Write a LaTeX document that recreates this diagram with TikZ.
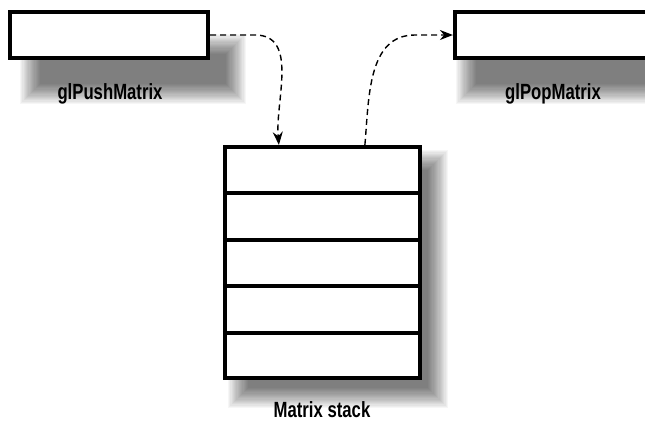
\documentclass[tikz,border=0pt]{standalone}
\usepackage{fontspec}
\newfontfamily\labfont[FakeStretch=0.76]{Liberation Sans Bold}
\usetikzlibrary{arrows.meta,calc}
\newcommand{\softshad}[4]{%
  \foreach \k in {0,...,17}{%
    \fill[black,opacity=0.034] (#1+1.2*\k,#2-1.2*\k) rectangle (#3-1.2*\k,#4+1.2*\k);}}
\begin{document}
\begin{tikzpicture}[x=1pt,y=1pt,
  box/.style={draw=black,line width=4.2pt,fill=white,inner sep=0pt,rectangle},
  lab/.style={font=\labfont\fontsize{22}{24}\selectfont,inner sep=0pt},
  conn/.style={dash pattern=on 6pt off 4pt,line width=1.4pt,-{Stealth[length=13pt,width=10pt]}}]
\useasboundingbox (0,0) rectangle (645,-423);
\fill[white] (0,0) rectangle (645,-423);
\softshad{20}{-34}{246}{-104}
\softshad{456}{-34}{670}{-104}
\softshad{228}{-150}{448}{-408}
\node[box,minimum width=198pt,minimum height=46pt] (push) at (109,-35) {};
\node[box,minimum width=200pt,minimum height=46pt] (pop) at (555,-35) {};
\node[box,minimum width=195pt,minimum height=231pt] (stack) at (322.5,-262.5) {};
\foreach \y [count=\i] in {-193,-240,-286,-333}
  \draw[line width=4.2pt] ($(stack.west)+(0,\y+262.5)$) coordinate (l\i) -- ($(stack.east)+(0,\y+262.5)$) coordinate (r\i);
\node[lab] (pushlab) at (110,-94) {glPushMatrix};
\node[lab] (poplab) at (553,-94) {glPopMatrix};
\node[lab] (stacklab) at (322,-410) {Matrix stack};
\coordinate (in1) at ($(stack.north west)+(56,0)$);
\coordinate (out1) at ($(stack.north west)+(142,0)$);
\draw[conn] (push.east) -- ++(45,0) to[out=0,in=95] (in1);
\draw[conn] (out1) to[out=85,in=180] ($(pop.west)+(-38,0)$) -- (pop.west);
\end{tikzpicture}
\end{document}
